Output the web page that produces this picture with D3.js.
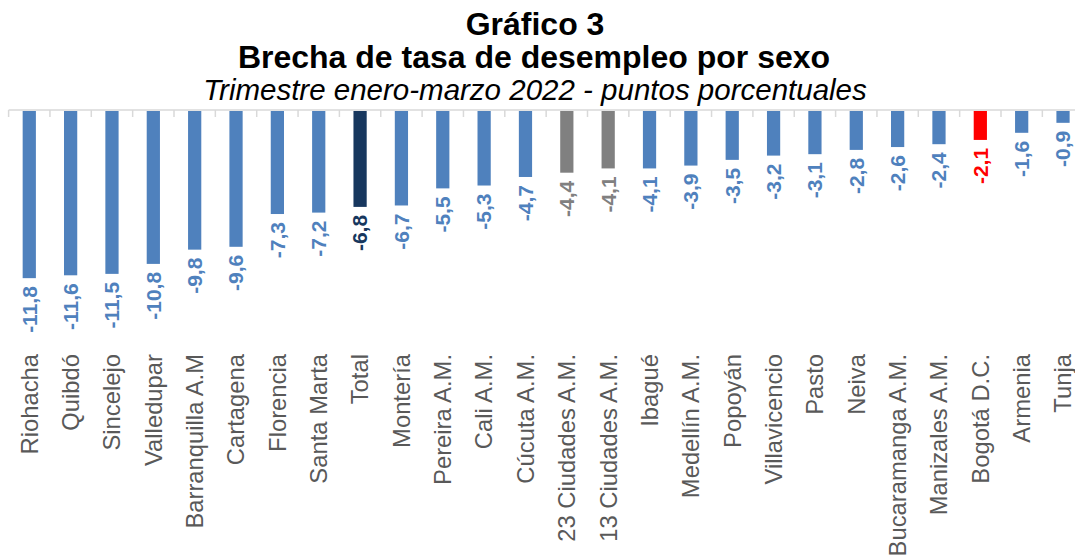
<!DOCTYPE html>
<html>
<head>
<meta charset="utf-8">
<script src="https://cdn.jsdelivr.net/npm/d3@7"></script>
<style>
  body { margin: 0; background: #fff; }
  svg { display: block; font-family: Arial, "Liberation Sans", sans-serif; }
</style>
</head>
<body>
<div id="chart"></div>
<script>
const categories = ["Riohacha", "Quibdó", "Sincelejo", "Valledupar", "Barranquilla A.M", "Cartagena",
    "Florencia", "Santa Marta", "Total", "Montería", "Pereira A.M.", "Cali A.M.", "Cúcuta A.M.",
    "23 Ciudades A.M.", "13 Ciudades A.M.", "Ibagué", "Medellín A.M.", "Popoyán", "Villavicencio",
    "Pasto", "Neiva", "Bucaramanga A.M.", "Manizales A.M.", "Bogotá D.C.", "Armenia", "Tunja"];
const values = [-11.8, -11.6, -11.5, -10.8, -9.8, -9.6, -7.3, -7.2, -6.8, -6.7, -5.5, -5.3, -4.7,
    -4.4, -4.1, -4.1, -3.9, -3.5, -3.2, -3.1, -2.8, -2.6, -2.4, -2.1, -1.6, -0.9];
const highlight = { "Total": "#17375E", "23 Ciudades A.M.": "#808080", "13 Ciudades A.M.": "#808080", "Bogotá D.C.": "#FF0000" };

const width = 1075;
const height = 560;

const data = categories.map((c, i) => ({ name: c, value: values[i] }));
const colorOf = d => highlight[d.name] || "#4F81BD";

const svg = d3.select("#chart")
    .append("svg")
    .attr("width", width)
    .attr("height", height);

// titles
svg.append("text")
    .attr("x", 535).attr("y", 35)
    .attr("text-anchor", "middle")
    .attr("font-size", 32).attr("font-weight", "bold")
    .text("Gráfico 3");
svg.append("text")
    .attr("x", 534).attr("y", 68)
    .attr("text-anchor", "middle")
    .attr("font-size", 32).attr("font-weight", "bold")
    .text("Brecha de tasa de desempleo por sexo");
svg.append("text")
    .attr("x", 535).attr("y", 100)
    .attr("text-anchor", "middle")
    .attr("font-size", 29.5).attr("font-style", "italic")
    .text("Trimestre enero-marzo 2022 - puntos porcentuales");

const x = d3.scaleBand()
    .domain(categories)
    .range([8.6, 8.6 + 26 * 41.35])
    .paddingInner(0.68)
    .paddingOuter(0.34);

const y = d3.scaleLinear()
    .domain([0, -12])
    .range([110, 281]);

// axis line with ticks at band boundaries
const boundaries = d3.range(categories.length + 1).map(i => 8.6 + i * 41.35);
svg.append("line")
    .attr("x1", 8.6).attr("x2", width)
    .attr("y1", y(0)).attr("y2", y(0))
    .attr("stroke", "#d9d9d9").attr("stroke-width", 1.5);
svg.selectAll(".tick")
    .data(boundaries)
    .enter()
    .append("line")
    .attr("class", "tick")
    .attr("x1", d => d).attr("x2", d => d)
    .attr("y1", y(0)).attr("y2", y(0) + 7)
    .attr("stroke", "#d9d9d9").attr("stroke-width", 1.5);

svg.selectAll(".bar")
    .data(data)
    .enter()
    .append("rect")
    .attr("class", "bar")
    .attr("x", d => x(d.name))
    .attr("y", y(0) + 1)
    .attr("width", x.bandwidth())
    .attr("height", d => y(d.value) - y(0) - 1)
    .attr("fill", colorOf);

// value labels
svg.selectAll(".val")
    .data(data)
    .enter()
    .append("text")
    .attr("class", "val")
    .attr("transform", d => `translate(${x(d.name) + x.bandwidth() / 2},${y(d.value) + 8}) rotate(-90)`)
    .attr("text-anchor", "end")
    .attr("dy", "0.35em")
    .attr("font-size", 21).attr("font-weight", "bold")
    .attr("fill", colorOf)
    .text(d => d3.format(".1f")(d.value).replace(".", ",").replace("−", "-"));

// category labels
svg.selectAll(".cat")
    .data(data)
    .enter()
    .append("text")
    .attr("class", "cat")
    .attr("transform", d => `translate(${x(d.name) + x.bandwidth() / 2},354) rotate(-90)`)
    .attr("text-anchor", "end")
    .attr("dy", "0.35em")
    .attr("font-size", 23.8)
    .attr("fill", "#595959")
    .text(d => d.name);
</script>
</body>
</html>
